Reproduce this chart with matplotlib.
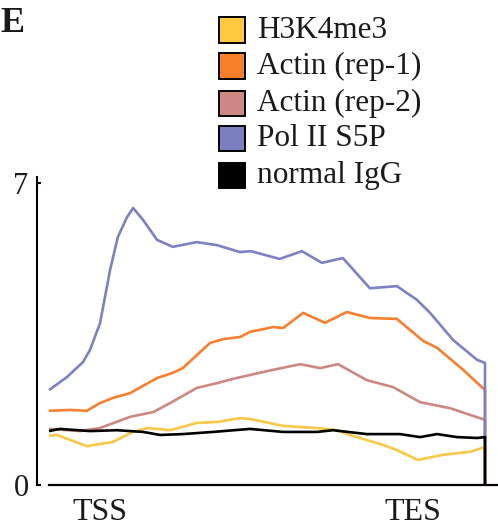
import matplotlib
matplotlib.use("Agg")
import matplotlib.pyplot as plt
from matplotlib.patches import Rectangle

# x positions: percent along the metagene (0 = left end of profile, 100 = right end)
series_names = ["H3K4me3", "Actin (rep-1)", "Actin (rep-2)", "Pol II S5P", "normal IgG"]
colors = ["#F8C846", "#F77F2E", "#CC8880", "#7D80C2", "#000000"]
legend_colors = ["#FFC83F", "#F97E2A", "#CD8783", "#7B7FC0", "#000000"]

h3_x = [0, 1.8, 8.7, 14.7, 19.3, 22.5, 27.8, 33.9, 38.5, 43.8, 46.1, 53.7, 61.5, 66.1, 69.0, 76.6, 79.8, 84.6, 90.4, 96.6, 100, 100]
h3_y = [1.14, 1.16, 0.90, 1.00, 1.23, 1.32, 1.27, 1.44, 1.46, 1.55, 1.53, 1.37, 1.32, 1.27, 1.16, 0.93, 0.81, 0.58, 0.70, 0.77, 0.88, 0]

act1_x = [0, 4.8, 8.7, 11.7, 14.7, 18.6, 24.8, 28.4, 30.7, 33.9, 36.9, 39.9, 43.8, 46.1, 51.4, 53.7, 58.3, 63.3, 68.3, 73.6, 79.8, 85.8, 89.0, 95.0, 100, 100]
act1_y = [1.72, 1.74, 1.72, 1.90, 2.02, 2.13, 2.48, 2.60, 2.71, 3.01, 3.29, 3.38, 3.43, 3.55, 3.66, 3.64, 3.99, 3.76, 4.01, 3.87, 3.85, 3.34, 3.18, 2.67, 2.20, 0]

act2_x = [0, 7.1, 11.7, 18.6, 23.9, 27.8, 33.9, 38.5, 42.2, 46.1, 51.4, 57.6, 62.2, 66.3, 72.9, 78.9, 85.1, 92.0, 100, 100]
act2_y = [1.30, 1.25, 1.32, 1.58, 1.69, 1.90, 2.25, 2.36, 2.46, 2.55, 2.67, 2.80, 2.71, 2.80, 2.43, 2.27, 1.92, 1.78, 1.51, 0]

pol_x = [0, 4.1, 7.8, 9.4, 11.7, 14.0, 15.8, 17.9, 19.3, 21.6, 24.8, 28.4, 33.9, 38.5, 43.8, 46.3, 52.9, 58.0, 62.6, 67.4, 73.6, 79.8, 84.4, 87.4, 92.7, 98.2, 100, 100]
pol_y = [2.20, 2.50, 2.85, 3.13, 3.75, 4.98, 5.75, 6.21, 6.42, 6.14, 5.68, 5.52, 5.63, 5.56, 5.40, 5.42, 5.24, 5.42, 5.15, 5.26, 4.56, 4.61, 4.29, 3.99, 3.36, 2.90, 2.83, 0]

igg_x = [0, 2.5, 9.4, 15.6, 21.6, 25.5, 30.7, 37.6, 46.1, 53.7, 61.5, 65.1, 72.9, 80.5, 85.1, 89.0, 93.6, 98.2, 100, 100]
igg_y = [1.25, 1.30, 1.25, 1.27, 1.23, 1.16, 1.18, 1.23, 1.30, 1.23, 1.23, 1.27, 1.18, 1.18, 1.11, 1.18, 1.11, 1.09, 1.11, 0]

xtick_pos = [11.7, 83.5]
xtick_labels = ["TSS", "TES"]
ytick_pos = [0, 7]
ytick_labels = ["0", "7"]

plt.rcParams['font.family'] = ['Liberation Serif', 'DejaVu Serif']
TEXT = "#1a1a1a"

W, H = 498, 528
fig = plt.figure(figsize=(W / 100, H / 100), dpi=100)

def fx(px):
    return px / W

def fy(py):
    return 1 - py / H

ax_left, ax_right, ax_top, ax_bot = 37, 498, 177, 485
ax = fig.add_axes([fx(ax_left), fy(ax_bot), (ax_right - ax_left) / W, (ax_bot - ax_top) / H])

xs = [h3_x, act1_x, act2_x, pol_x, igg_x]
ys = [h3_y, act1_y, act2_y, pol_y, igg_y]
for x, y, c in zip(xs, ys, colors):
    ax.plot(x, y, color=c, lw=1.9, solid_joinstyle="round", solid_capstyle="butt")

# x extents: pixel 49 -> 0, pixel 485 -> 100
scale = (485 - 49) / 100.0
ax.set_xlim((ax_left - 49) / scale, (ax_right - 49) / scale)
ax.set_ylim(0, 7 * (485 - 177) / (485 - 183))

for s in ["top", "right", "bottom"]:
    ax.spines[s].set_visible(False)
ax.spines["left"].set_linewidth(1.5)
ax.axhline(0, xmin=(49 - ax_left) / (ax_right - ax_left), xmax=1, color="black", lw=1.6, clip_on=False)

ax.set_xticks(xtick_pos)
ax.set_xticklabels(xtick_labels, fontsize=23, color=TEXT)
ax.tick_params(axis="x", length=0, pad=9)
ax.set_yticks(ytick_pos)
ax.set_yticklabels(ytick_labels, fontsize=22, color=TEXT)
ax.tick_params(axis="y", length=3, width=1.5, direction="in", pad=6)

# Panel letter
fig.text(fx(0), fy(23), "E", fontsize=26, fontweight="bold", va="center", ha="left", color=TEXT)

# Legend
row_y = [30, 66, 103, 139, 176]
for name, c, yy in zip(series_names, legend_colors, row_y):
    sw, sh = 26, 25
    fig.add_artist(Rectangle((fx(219), fy(yy + sh / 2)), sw / W, sh / H, transform=fig.transFigure,
                             facecolor=c, edgecolor="black", lw=1.4))
    fig.text(fx(257), fy(yy), name, fontsize=22.5, va="center", ha="left", color=TEXT)

fig.savefig("out.png", dpi=100)
